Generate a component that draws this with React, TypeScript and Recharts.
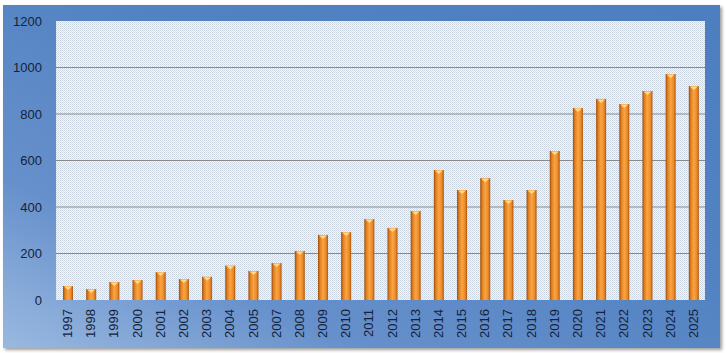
import React from "react";
import { BarChart, Bar, XAxis, YAxis, CartesianGrid } from "recharts";

const years = [
  "1997", "1998", "1999", "2000", "2001", "2002", "2003", "2004", "2005",
  "2007", "2008", "2009", "2010", "2011", "2012", "2013", "2014", "2015",
  "2016", "2017", "2018", "2019", "2020", "2021", "2022", "2023", "2024", "2025",
];
const counts = [
  60, 47, 77, 86, 120, 90, 100, 148, 125,
  159, 211, 280, 292, 348, 310, 383, 559, 473,
  524, 430, 473, 641, 826, 865, 843, 899, 972, 920,
];
const yTicks = [0, 200, 400, 600, 800, 1000, 1200];
const gridValues = [200, 400, 600, 800, 1000];

const data = years.map((year, i) => ({ year, count: counts[i] }));

const FONT = '"Liberation Sans", Arial, sans-serif';
const TEXT = "#16223a";

function CylinderBar(props: any) {
  const { x, y, width, height } = props;
  if (height <= 0) return null;
  return (
    <g>
      <rect x={x} y={y} width={width} height={height} fill="url(#barGrad)" />
      <polygon
        points={`${x + 1},${y + 0.5} ${x + width - 1},${y + 0.5} ${x + width / 2},${y + 4}`}
        fill="#ffd98a"
      />
    </g>
  );
}

function YearTick(props: any) {
  const { x, payload } = props;
  return (
    <text
      x={x + 4.5}
      y={309}
      transform={`rotate(-90 ${x + 4.5} 309)`}
      textAnchor="end"
      fontSize={13}
      fontFamily={FONT}
      fill={TEXT}
    >
      {payload.value}
    </text>
  );
}

export default function App() {
  return (
    <div style={{ position: "absolute", left: 0, top: 0, width: 727, height: 353, background: "#fff" }}>
      <div
        style={{
          position: "absolute",
          left: 3,
          top: 5,
          width: 717,
          height: 343,
          background: "linear-gradient(to top right, #9ab9e0 0%, #6690cb 25%, #5282c2 60%, #4d7ec0 100%)",
          boxShadow: "2px 2px 3px rgba(90,90,90,0.6)",
        }}
      />
      <div style={{ position: "absolute", left: 0, top: 0 }}>
        <BarChart
          width={727}
          height={353}
          data={data}
          margin={{ top: 21, right: 22, bottom: 0, left: 0 }}
          barCategoryGap={0}
        >
          <defs>
            <pattern id="dots" width="2" height="2" patternUnits="userSpaceOnUse">
              <rect width="2" height="2" fill="#f4f6f9" />
              <rect width="1" height="1" fill="#c9d3df" />
              <rect x="1" y="1" width="1" height="1" fill="#d6dee8" />
            </pattern>
            <linearGradient id="barGrad" x1="0" y1="0" x2="1" y2="0">
              <stop offset="0%" stopColor="#9a4a0a" />
              <stop offset="20%" stopColor="#e0801f" />
              <stop offset="50%" stopColor="#fba443" />
              <stop offset="80%" stopColor="#ea8a28" />
              <stop offset="100%" stopColor="#a9540e" />
            </linearGradient>
          </defs>
          <CartesianGrid
            vertical={false}
            horizontalValues={gridValues}
            stroke="#8a8a8a"
            fill="url(#dots)"
            fillOpacity={1}
          />
          <XAxis
            dataKey="year"
            interval={0}
            height={53}
            axisLine={false}
            tickLine={false}
            tick={<YearTick />}
          />
          <YAxis
            width={56}
            domain={[0, 1200]}
            ticks={yTicks}
            axisLine={false}
            tickLine={false}
            tickSize={0}
            tickMargin={14}
            tick={{ fontSize: 13, fontFamily: FONT, fill: TEXT }}
          />
          <Bar dataKey="count" barSize={10} shape={<CylinderBar />} isAnimationActive={false} />
        </BarChart>
      </div>
    </div>
  );
}
